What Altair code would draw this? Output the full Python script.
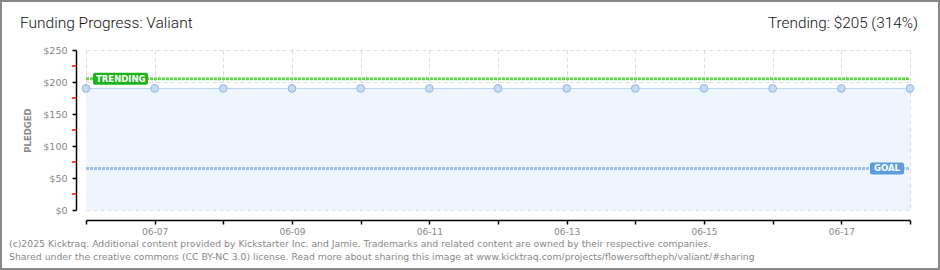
import altair as alt
import pandas as pd

dates = ["2025-06-06", "2025-06-07", "2025-06-08", "2025-06-09", "2025-06-10",
         "2025-06-11", "2025-06-12", "2025-06-13", "2025-06-14", "2025-06-15",
         "2025-06-16", "2025-06-17", "2025-06-18"]
pledged = [190, 190, 190, 190, 190, 190, 190, 190, 190, 190, 190, 190, 190]
goal_value = [65]
trend_value = [205]
y_major = [0, 50, 100, 150, 200, 250]
y_minor = [25, 75, 125, 175, 225]
title_text = "Funding Progress: Valiant"
trend_text = "Trending:  $205 (314%)"
footer_line1 = "(c)2025 Kicktraq. Additional content provided by Kickstarter Inc. and Jamie. Trademarks and related content are owned by their respective companies."
footer_line2 = "Shared under the creative commons (CC BY-NC 3.0) license. Read more about sharing this image at www.kicktraq.com/projects/flowersoftheph/valiant/#sharing"

W, H = 824, 160
FONT = "DejaVu Sans"
HFONT = "Roboto"

df = pd.DataFrame({"date": dates, "pledged": pledged})
xs = alt.Scale(type="utc", domain=[dates[0], dates[-1]], nice=False)
ys = alt.Scale(domain=[0, 250], nice=False)

xax = alt.Axis(
    values=dates,
    labelExpr="utcdate(datum.value) % 2 == 1 ? utcFormat(datum.value, '%m-%d') : ''",
    grid=True, gridColor="#dddddd", gridDash=[4, 3], gridWidth=1,
    domainColor="#000000", domainWidth=1.5, tickColor="#000000", tickSize=4, tickWidth=1.5,
    offset=10, labelColor="#888888", labelFont=FONT, labelFontSize=9, labelPadding=3,
    title=None, labelFlush=False, labelOverlap=False,
)
yax = alt.Axis(
    values=y_major, labelExpr="'$' + datum.value",
    grid=True, gridColor="#dddddd", gridDash=[4, 3], gridWidth=1,
    domainColor="#000000", domainWidth=1.5, tickColor="#000000", tickSize=4, tickWidth=1.5,
    offset=10, labelColor="#888888", labelFont=FONT, labelFontSize=9.5, labelPadding=5,
    labelOverlap=False, labelFlush=False,
    title="PLEDGED", titleColor="#888888", titleFont=FONT, titleFontSize=8.5,
    titleFontWeight="bold", titlePadding=10,
)

def X(field):
    return alt.X(field, scale=xs, axis=xax)

def Y(field):
    return alt.Y(field, scale=ys, axis=yax)

base = alt.Chart(df)
area = base.mark_area(color="#eef5fd", opacity=1).encode(x=X("date:T"), y=Y("pledged:Q"))
line = base.mark_line(color="#b3d0f0", strokeWidth=1).encode(x=X("date:T"), y=Y("pledged:Q"))
pts = base.mark_circle(size=60, color="#c6dbf5", opacity=1, stroke="#93b5de", strokeWidth=1).encode(
    x=X("date:T"), y=Y("pledged:Q"))

gdf = pd.DataFrame({"v": goal_value})
tdf = pd.DataFrame({"v": trend_value})

goal_rule = alt.Chart(gdf).mark_rule(color="#9fc1ea", strokeWidth=3, strokeDash=[3, 1]).encode(
    y=Y("v:Q"), x=alt.value(0), x2=alt.value(W))
trend_rule = alt.Chart(tdf).mark_rule(color="#6ad84a", strokeWidth=3, strokeDash=[3, 1]).encode(
    y=Y("v:Q"), x=alt.value(0), x2=alt.value(W))

trend_box = alt.Chart(tdf).mark_rect(color="#1eb21e", yOffset=-6, y2Offset=6, cornerRadius=2).encode(
    y=Y("v:Q"), y2="v:Q", x=alt.value(7), x2=alt.value(62))
trend_lbl = alt.Chart(tdf).mark_text(text="TRENDING", color="white", font=FONT, fontSize=8.5,
                                      fontWeight="bold", align="left", baseline="middle").encode(
    y=Y("v:Q"), x=alt.value(10))
goal_box = alt.Chart(gdf).mark_rect(color="#5d9ddd", yOffset=-6, y2Offset=6, cornerRadius=2).encode(
    y=Y("v:Q"), y2="v:Q", x=alt.value(784), x2=alt.value(818))
goal_lbl = alt.Chart(gdf).mark_text(text="GOAL", color="white", font=FONT, fontSize=8.5,
                                     fontWeight="bold", align="left", baseline="middle").encode(
    y=Y("v:Q"), x=alt.value(788))

minor = alt.Chart(pd.DataFrame({"v": y_minor})).mark_rule(color="#ff0000", strokeWidth=1.5).encode(
    y=Y("v:Q"), x=alt.value(-14), x2=alt.value(-10))

def label(text, x, y, **kw):
    return alt.Chart(pd.DataFrame({"t": [text]})).mark_text(baseline="alphabetic", **kw).encode(
        text="t:N", x=alt.value(x), y=alt.value(y))

title = label(title_text, -66, -22, font=HFONT, fontSize=15.5, fontWeight=300, color="#111111", align="left")
trend_hdr = label(trend_text, 832, -22, font=HFONT, fontSize=15.3, fontWeight=300, color="#111111", align="right")
foot1 = label(footer_line1, -77, 197, font=FONT, fontSize=9.3, color="#888888", align="left")
foot2 = label(footer_line2, -77, 210, font=FONT, fontSize=9.3, color="#888888", align="left")

border = alt.Chart(pd.DataFrame({"t": [0]})).mark_rect(fill=None, stroke="#888888", strokeWidth=2).encode(
    x=alt.value(-85), x2=alt.value(853), y=alt.value(-49), y2=alt.value(219))

chart = alt.layer(
    area, goal_rule, trend_rule, line, pts, trend_box, trend_lbl, goal_box, goal_lbl,
    minor, title, trend_hdr, foot1, foot2, border,
).properties(
    width=W, height=H, autosize=alt.AutoSizeParams(type="none"),
    padding={"left": 86, "top": 50, "right": 30, "bottom": 60},
    background="white",
).configure_view(stroke=None)

chart.save("out.html", embed_options={"renderer": "svg", "actions": False})
